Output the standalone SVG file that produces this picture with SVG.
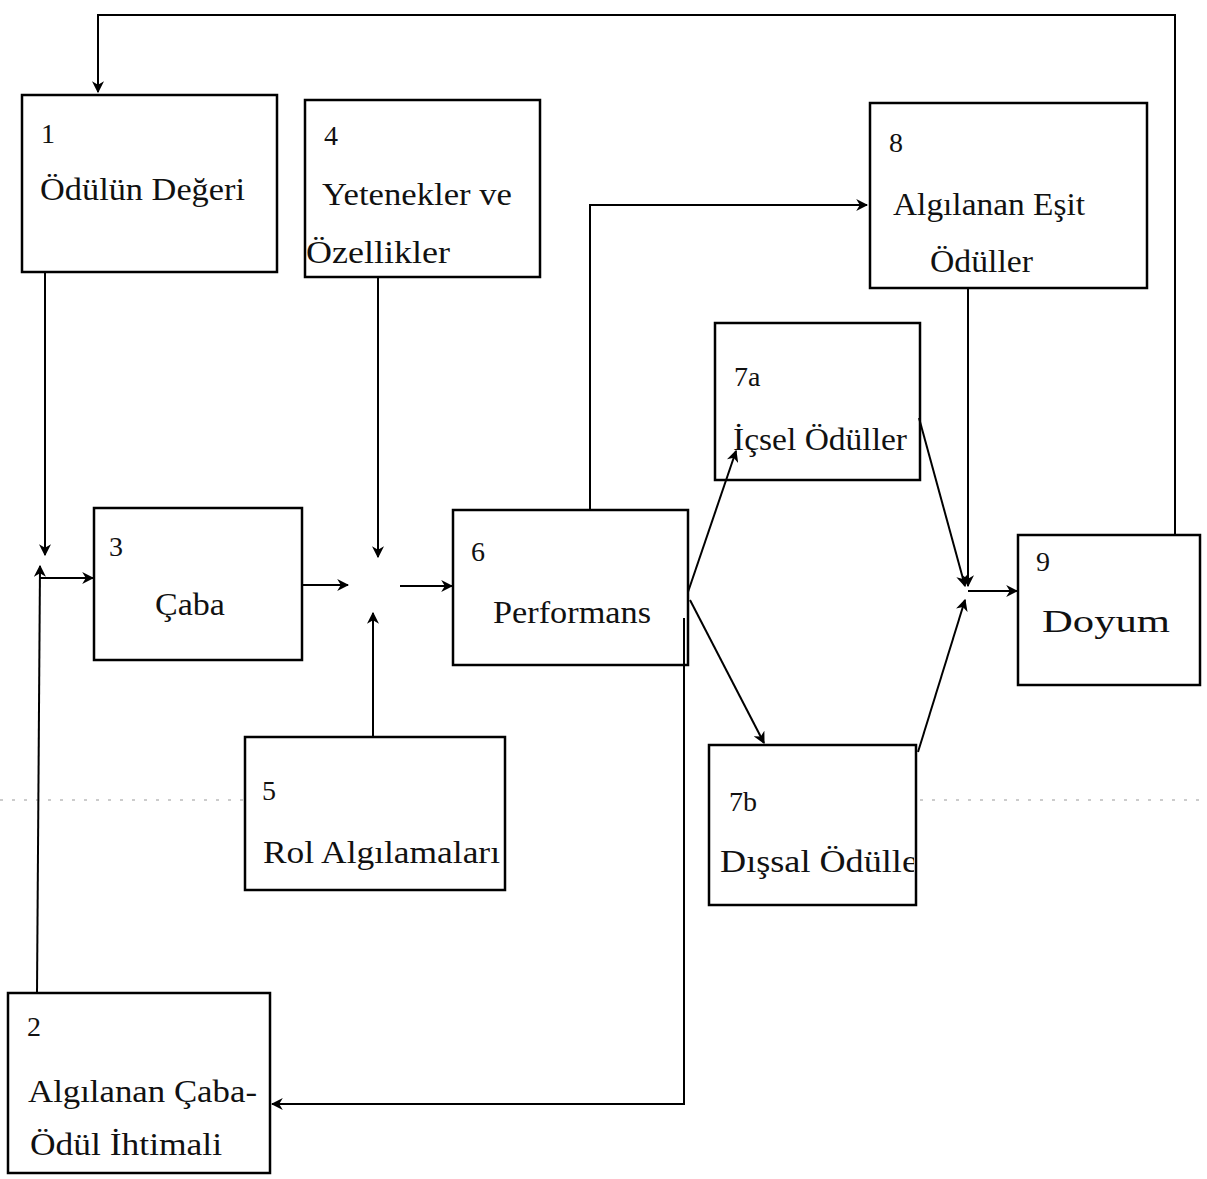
<svg xmlns="http://www.w3.org/2000/svg" width="1207" height="1179" viewBox="0 0 1207 1179">
<style>
.box{fill:#fff;stroke:#000;stroke-width:2.5}
.t{font-family:"Liberation Serif","Times New Roman",serif;font-size:31px;fill:#111}
.n{font-family:"Liberation Serif","Times New Roman",serif;font-size:28px;fill:#111}
.c{fill:none;stroke:#000;stroke-width:2}
.noise{stroke:#999;stroke-width:1.2;stroke-dasharray:3 9;fill:none}
</style>
<defs>
<marker id="ah" viewBox="0 0 10 10" refX="9" refY="5" markerWidth="12" markerHeight="12" markerUnits="userSpaceOnUse" orient="auto">
<path d="M0,0 L10,5 L0,10 L3,5 Z" fill="#000"/>
</marker>
<clipPath id="clip7b"><rect x="709" y="745" width="205" height="160"/></clipPath>
</defs>
<rect width="1207" height="1179" fill="#fff"/>
<g id="noise">
<path class="noise" d="M0,800 H245 M265,800 H420 M920,800 H1207"/>
</g>
<g id="node1">
<rect class="box" x="22" y="95" width="255" height="177"/>
<text class="n" x="41" y="143">1</text>
<text class="t" x="40" y="200" textLength="205" lengthAdjust="spacingAndGlyphs">Ödülün Değeri</text>
</g>
<g id="node4">
<rect class="box" x="305" y="100" width="235" height="177"/>
<text class="n" x="324" y="145">4</text>
<text class="t" x="322" y="205" textLength="190" lengthAdjust="spacingAndGlyphs">Yetenekler ve</text>
<text class="t" x="306" y="263" textLength="144" lengthAdjust="spacingAndGlyphs">Özellikler</text>
</g>
<g id="node8">
<rect class="box" x="870" y="103" width="277" height="185"/>
<text class="n" x="889" y="152">8</text>
<text class="t" x="893" y="215" textLength="192" lengthAdjust="spacingAndGlyphs">Algılanan Eşit</text>
<text class="t" x="930" y="272" textLength="103" lengthAdjust="spacingAndGlyphs">Ödüller</text>
</g>
<g id="node7a">
<rect class="box" x="715" y="323" width="205" height="157"/>
<text class="n" x="734" y="386">7a</text>
<text class="t" x="733" y="450" textLength="174" lengthAdjust="spacingAndGlyphs">İçsel Ödüller</text>
</g>
<g id="node3">
<rect class="box" x="94" y="508" width="208" height="152"/>
<text class="n" x="109" y="556">3</text>
<text class="t" x="155" y="615" textLength="70" lengthAdjust="spacingAndGlyphs">Çaba</text>
</g>
<g id="node6">
<rect class="box" x="453" y="510" width="235" height="155"/>
<text class="n" x="471" y="561">6</text>
<text class="t" x="493" y="623" textLength="158" lengthAdjust="spacingAndGlyphs">Performans</text>
</g>
<g id="node9">
<rect class="box" x="1018" y="535" width="182" height="150"/>
<text class="n" x="1036" y="571">9</text>
<text class="t" x="1042" y="632" textLength="128" lengthAdjust="spacingAndGlyphs">Doyum</text>
</g>
<g id="node5">
<rect class="box" x="245" y="737" width="260" height="153"/>
<text class="n" x="262" y="800">5</text>
<text class="t" x="263" y="863" textLength="237" lengthAdjust="spacingAndGlyphs">Rol Algılamaları</text>
</g>
<g id="node7b">
<rect class="box" x="709" y="745" width="207" height="160"/>
<text class="n" x="729" y="811">7b</text>
<text class="t" x="720" y="872" textLength="210" lengthAdjust="spacingAndGlyphs" clip-path="url(#clip7b)">Dışsal Ödüller</text>
</g>
<g id="node2">
<rect class="box" x="8" y="993" width="262" height="180"/>
<text class="n" x="27" y="1036">2</text>
<text class="t" x="28" y="1102" textLength="229" lengthAdjust="spacingAndGlyphs">Algılanan Çaba-</text>
<text class="t" x="30" y="1155" textLength="192" lengthAdjust="spacingAndGlyphs">Ödül İhtimali</text>
</g>
<g id="connectors">
<polyline class="c" points="1175,535 1175,15 98,15 98,92" marker-end="url(#ah)"/>
<line class="c" x1="45" y1="272" x2="45" y2="555" marker-end="url(#ah)"/>
<line class="c" x1="37" y1="993" x2="40" y2="566" marker-end="url(#ah)"/>
<line class="c" x1="40" y1="578" x2="93" y2="578" marker-end="url(#ah)"/>
<line class="c" x1="302" y1="585" x2="348" y2="585" marker-end="url(#ah)"/>
<line class="c" x1="378" y1="277" x2="378" y2="557" marker-end="url(#ah)"/>
<line class="c" x1="373" y1="737" x2="373" y2="613" marker-end="url(#ah)"/>
<line class="c" x1="400" y1="586" x2="452" y2="586" marker-end="url(#ah)"/>
<polyline class="c" points="590,510 590,205 867,205" marker-end="url(#ah)"/>
<line class="c" x1="688" y1="592" x2="736" y2="451" marker-end="url(#ah)"/>
<line class="c" x1="690" y1="600" x2="764" y2="743" marker-end="url(#ah)"/>
<line class="c" x1="919" y1="418" x2="965" y2="586" marker-end="url(#ah)"/>
<line class="c" x1="968" y1="288" x2="968" y2="586" marker-end="url(#ah)"/>
<line class="c" x1="918" y1="752" x2="965" y2="600" marker-end="url(#ah)"/>
<line class="c" x1="968" y1="591" x2="1017" y2="591" marker-end="url(#ah)"/>
<polyline class="c" points="684,618 684,1104 272,1104" marker-end="url(#ah)"/>
</g>
</svg>
